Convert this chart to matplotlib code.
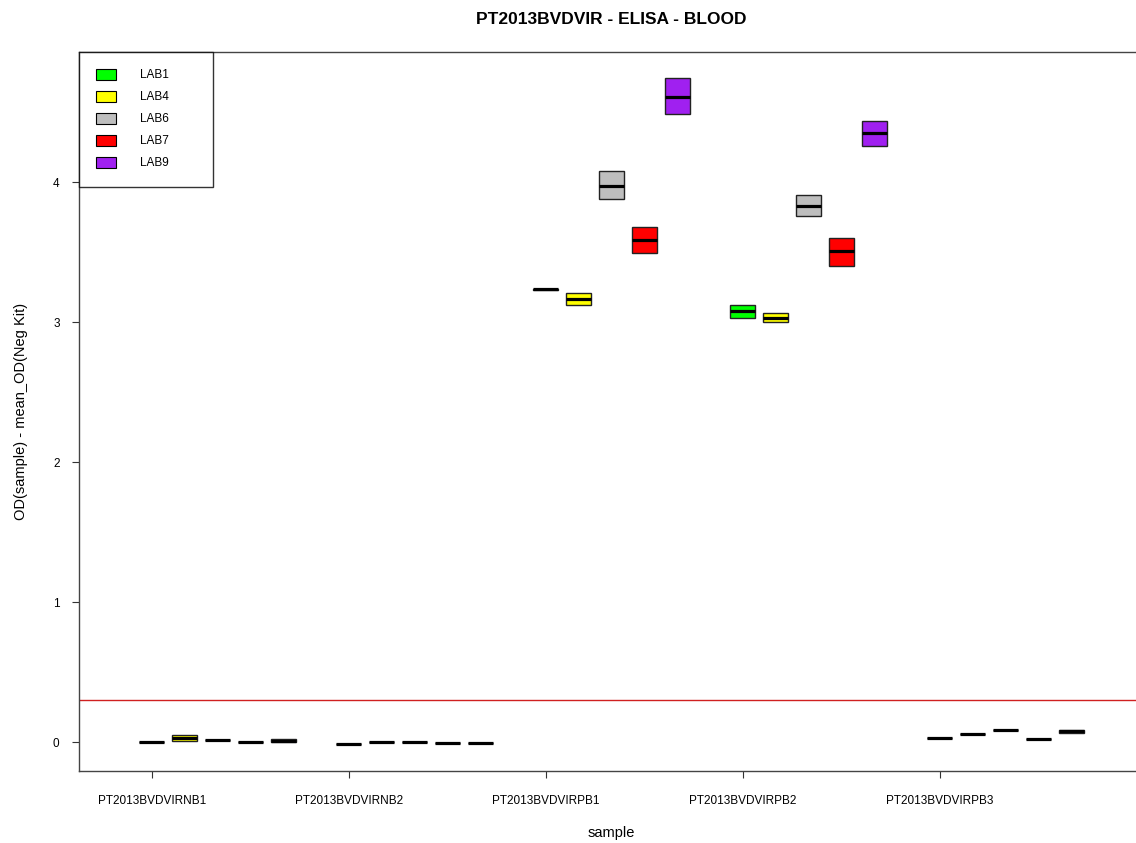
import matplotlib
matplotlib.use("Agg")
import matplotlib.pyplot as plt
from matplotlib.patches import Patch

plt.rcParams['font.family'] = ['Liberation Sans', 'DejaVu Sans']

samples = ["PT2013BVDVIRNB1", "PT2013BVDVIRNB2", "PT2013BVDVIRPB1",
           "PT2013BVDVIRPB2", "PT2013BVDVIRPB3"]
labs = ["LAB1", "LAB4", "LAB6", "LAB7", "LAB9"]
lab_colors = ["#00ff00", "#ffff00", "#bebebe", "#ff0000", "#a020f0"]

# one row per sample, one column per lab
q1 = [[0.000, 0.010, 0.015, 0.000, 0.000],
      [-0.012, 0.002, -0.002, -0.005, -0.005],
      [3.228, 3.121, 3.876, 3.491, 4.484],
      [3.029, 2.998, 3.759, 3.402, 4.257],
      [0.031, 0.055, 0.086, 0.021, 0.068]]
med = [[0.000, 0.030, 0.015, 0.000, 0.010],
       [-0.012, 0.002, -0.002, -0.005, -0.005],
       [3.234, 3.162, 3.974, 3.583, 4.607],
       [3.076, 3.029, 3.831, 3.505, 4.352],
       [0.031, 0.055, 0.086, 0.021, 0.076]]
q3 = [[0.000, 0.050, 0.015, 0.000, 0.020],
      [-0.012, 0.002, -0.002, -0.005, -0.005],
      [3.238, 3.205, 4.079, 3.676, 4.740],
      [3.124, 3.064, 3.905, 3.602, 4.436],
      [0.031, 0.055, 0.086, 0.021, 0.084]]
cutoff = 0.3

fig = plt.figure(figsize=(11.36, 8.43), dpi=100)
ax = fig.add_axes([79 / 1136, 1 - 771 / 843, 1064 / 1136, 719 / 843])

stats, positions, colors = [], [], []
for i, s in enumerate(samples):
    for j, lab in enumerate(labs):
        stats.append(dict(med=med[i][j], q1=q1[i][j], q3=q3[i][j],
                          whislo=q1[i][j], whishi=q3[i][j], fliers=[],
                          label=lab))
        positions.append(i * 6 + j + 1)
        colors.append(lab_colors[j])

bp = ax.bxp(stats, positions=positions, widths=0.76, patch_artist=True,
            showcaps=False, showfliers=False, manage_ticks=False,
            boxprops=dict(edgecolor="#222222", linewidth=1),
            medianprops=dict(color="black", linewidth=2.3, solid_capstyle="butt"),
            whiskerprops=dict(linewidth=0))
for box, c in zip(bp["boxes"], colors):
    box.set_facecolor(c)

ax.axhline(cutoff, color="#d02020", linewidth=1)

ax.set_xlim(-1.22, 31.19)
ax.set_ylim(-0.207, 4.929)
ax.set_xticks([i * 6 + 1 for i in range(len(samples))])
ax.set_xticklabels(samples)
ax.set_yticks([0, 1, 2, 3, 4])
ax.tick_params(axis="both", labelsize=8.5, length=5, color="#333333")
ax.tick_params(axis="x", pad=12)
ax.tick_params(axis="y", pad=9)
for sp in ax.spines.values():
    sp.set_color("#444444")
    sp.set_linewidth(1)
ax.spines["right"].set_visible(False)

ax.set_xlabel("sample", fontsize=10.5, labelpad=14)
ax.set_ylabel("OD(sample) - mean_OD(Neg Kit)", fontsize=10.5, labelpad=18)
ax.set_title("PT2013BVDVIR - ELISA - BLOOD", fontsize=12.5, fontweight="bold", pad=20)

handles = [Patch(facecolor=c, edgecolor="black", linewidth=0.8) for c in lab_colors]
leg = ax.legend(handles, labs, loc="upper left", bbox_to_anchor=(0, 1, 134 / 1064, 0),
                mode="expand", borderaxespad=0, fontsize=8.5, frameon=True,
                fancybox=False, edgecolor="black", handlelength=1.7,
                handleheight=1.0, handletextpad=2.0, labelspacing=0.82,
                borderpad=1.45)
leg.get_frame().set_linewidth(1)

fig.savefig("out.png", dpi=100)
